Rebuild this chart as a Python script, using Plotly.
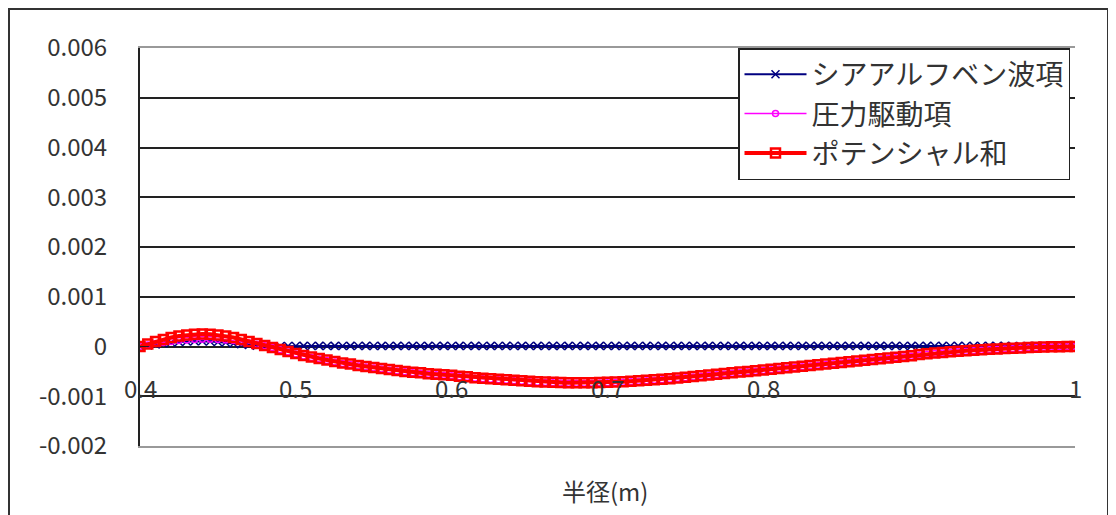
import plotly.graph_objects as go

# radius (m), step 0.005 from 0.4 to 1.0
radius = [round(0.4 + 0.005 * i, 3) for i in range(121)]

# values in units of 1e-3
potential_sum_e3 = [
    0.00, 0.05, 0.10, 0.14, 0.18, 0.21, 0.23, 0.245, 0.25, 0.245,
    0.23, 0.21, 0.18, 0.14, 0.10, 0.06, 0.02, -0.02, -0.06, -0.10,
    -0.14, -0.18, -0.21, -0.24, -0.27, -0.30, -0.33, -0.35, -0.38, -0.40,
    -0.42, -0.44, -0.46, -0.48, -0.50, -0.52, -0.53, -0.55, -0.56, -0.57,
    -0.58, -0.60, -0.61, -0.63, -0.64, -0.65, -0.66, -0.67, -0.68, -0.69,
    -0.70, -0.71, -0.715, -0.72, -0.725, -0.73, -0.73, -0.73, -0.73, -0.725,
    -0.72, -0.715, -0.71, -0.70, -0.69, -0.68, -0.67, -0.66, -0.65, -0.635,
    -0.62, -0.605, -0.59, -0.575, -0.56, -0.545, -0.53, -0.515, -0.50, -0.485,
    -0.47, -0.455, -0.44, -0.425, -0.41, -0.395, -0.38, -0.365, -0.35, -0.335,
    -0.32, -0.305, -0.29, -0.275, -0.26, -0.245, -0.23, -0.215, -0.20, -0.185,
    -0.16, -0.145, -0.13, -0.12, -0.105, -0.095, -0.085, -0.075, -0.065, -0.055,
    -0.05, -0.04, -0.035, -0.03, -0.02, -0.015, -0.01, -0.005, -0.003, -0.001,
    0.00,
]

alfven_e3 = [
    0.00, 0.02, 0.04, 0.06, 0.08, 0.09, 0.10, 0.105, 0.105, 0.10,
    0.09, 0.08, 0.06, 0.045, 0.03, 0.015, 0.005, 0.00, 0.005, 0.01,
    0.01, 0.012, 0.01, 0.012, 0.01, 0.012, 0.01, 0.012, 0.01, 0.012,
    0.01, 0.012, 0.01, 0.012, 0.01, 0.012, 0.01, 0.012, 0.01, 0.012,
    0.01, 0.012, 0.01, 0.012, 0.01, 0.012, 0.01, 0.012, 0.01, 0.012,
    0.01, 0.012, 0.01, 0.012, 0.01, 0.012, 0.01, 0.012, 0.01, 0.012,
    0.01, 0.012, 0.01, 0.012, 0.01, 0.012, 0.01, 0.012, 0.01, 0.012,
    0.01, 0.012, 0.01, 0.012, 0.01, 0.012, 0.01, 0.012, 0.01, 0.012,
    0.01, 0.012, 0.01, 0.012, 0.01, 0.012, 0.01, 0.012, 0.01, 0.012,
    0.01, 0.012, 0.01, 0.012, 0.01, 0.012, 0.01, 0.012, 0.01, 0.012,
    0.01, 0.012, 0.01, 0.012, 0.01, 0.012, 0.01, 0.012, 0.01, 0.012,
    0.01, 0.012, 0.01, 0.01, 0.008, 0.008, 0.006, 0.005, 0.003, 0.002,
    0.00,
]

pressure_e3 = [
    0.00, 0.03, 0.06, 0.08, 0.10, 0.12, 0.13, 0.14, 0.145, 0.145,
    0.14, 0.13, 0.12, 0.095, 0.07, 0.045, 0.015, -0.02, -0.065, -0.11,
    -0.15, -0.19, -0.22, -0.25, -0.28, -0.31, -0.34, -0.36, -0.39, -0.41,
    -0.43, -0.45, -0.47, -0.49, -0.51, -0.53, -0.54, -0.56, -0.57, -0.58,
    -0.59, -0.61, -0.62, -0.64, -0.65, -0.66, -0.67, -0.68, -0.69, -0.70,
    -0.71, -0.72, -0.725, -0.73, -0.735, -0.74, -0.74, -0.74, -0.74, -0.735,
    -0.73, -0.725, -0.72, -0.71, -0.70, -0.69, -0.68, -0.67, -0.66, -0.645,
    -0.63, -0.615, -0.60, -0.585, -0.57, -0.555, -0.54, -0.525, -0.51, -0.495,
    -0.48, -0.465, -0.45, -0.435, -0.42, -0.405, -0.39, -0.375, -0.36, -0.345,
    -0.33, -0.315, -0.30, -0.285, -0.27, -0.255, -0.24, -0.225, -0.21, -0.195,
    -0.17, -0.155, -0.14, -0.13, -0.115, -0.105, -0.095, -0.085, -0.075, -0.065,
    -0.06, -0.05, -0.045, -0.04, -0.028, -0.023, -0.016, -0.01, -0.006, -0.003,
    0.00,
]

series_names = ["シアアルフベン波項", "圧力駆動項", "ポテンシャル和"]
y_tickvals = [0.006, 0.005, 0.004, 0.003, 0.002, 0.001, 0, -0.001, -0.002]
y_ticktext = ["0.006", "0.005", "0.004", "0.003", "0.002", "0.001", "0", "-0.001", "-0.002"]
x_tickvals = [0.4, 0.5, 0.6, 0.7, 0.8, 0.9, 1.0]
x_ticktext = ["0.4", "0.5", "0.6", "0.7", "0.8", "0.9", "1"]
x_title = "半径(m)"

FONT = "Noto Sans CJK JP"
TXT = "#333"

alfven = [v * 1e-3 for v in alfven_e3]
pressure = [v * 1e-3 for v in pressure_e3]
potential = [v * 1e-3 for v in potential_sum_e3]

fig = go.Figure()
fig.add_trace(go.Scatter(
    x=radius, y=alfven, name=series_names[0], mode="lines+markers",
    line=dict(color="#000080", width=2),
    marker=dict(symbol="x-thin", size=8, color="#000080", line=dict(color="#000080", width=1.5)),
))
fig.add_trace(go.Scatter(
    x=radius, y=pressure, name=series_names[1], mode="lines+markers",
    line=dict(color="#FF00FF", width=1.5),
    marker=dict(symbol="circle-open", size=6, color="#FF00FF", line=dict(width=1.5)),
))
fig.add_trace(go.Scatter(
    x=radius, y=potential, name=series_names[2], mode="lines+markers",
    line=dict(color="#FF0000", width=4),
    marker=dict(symbol="square-open", size=9, color="#FF0000", line=dict(width=2.5)),
))

# x tick labels sit just above the -0.001 line
for xv, xt in zip(x_tickvals, x_ticktext):
    fig.add_annotation(x=xv, y=-0.001, xref="x", yref="y", text=xt, showarrow=False,
                       yanchor="bottom", yshift=-11, font=dict(family=FONT, size=24, color=TXT))

fig.add_annotation(x=(605 - 140) / 935, y=(446 - 490) / 398, xref="paper", yref="paper",
                   text=x_title, showarrow=False, yanchor="middle",
                   font=dict(family=FONT, size=24, color=TXT))

# outer chart border (kept inside the figure area, which starts 8px into the page)
fig.add_shape(type="rect", xref="paper", yref="paper",
              x0=-131 / 935, x1=968 / 935, y0=-0.3, y1=(446 - 9) / 398,
              line=dict(color="#333", width=2), fillcolor="rgba(0,0,0,0)", layer="below")

# page body has an 8px margin; compensate so plot area is at 140..1075 x 48..446
fig.update_layout(
    width=1116, height=515,
    margin=dict(l=132, r=49, t=40, b=77),
    paper_bgcolor="white", plot_bgcolor="white",
    font=dict(family=FONT, size=24, color=TXT),
    showlegend=True,
    legend=dict(x=(738 - 140) / 935, y=1.0, xanchor="left", yanchor="top",
                bordercolor="#222", borderwidth=1.5, bgcolor="white",
                font=dict(family=FONT, size=28, color=TXT),
                itemwidth=62, tracegroupgap=0),
)
fig.update_xaxes(range=[0.4, 1.0], showgrid=False, showticklabels=False, ticks="",
                 zeroline=False, showline=True, linecolor="#999", linewidth=1.5, mirror=True)
fig.update_yaxes(range=[-0.002, 0.006], tickvals=y_tickvals, ticktext=y_ticktext,
                 showgrid=True, gridcolor="#222", gridwidth=1.5, zeroline=False,
                 showline=True, linecolor="#222", linewidth=2, ticks="inside", ticklen=8,
                 tickcolor="#222", ticklabelstandoff=26,
                 tickfont=dict(family=FONT, size=24, color=TXT))

fig.write_html("out.html")
